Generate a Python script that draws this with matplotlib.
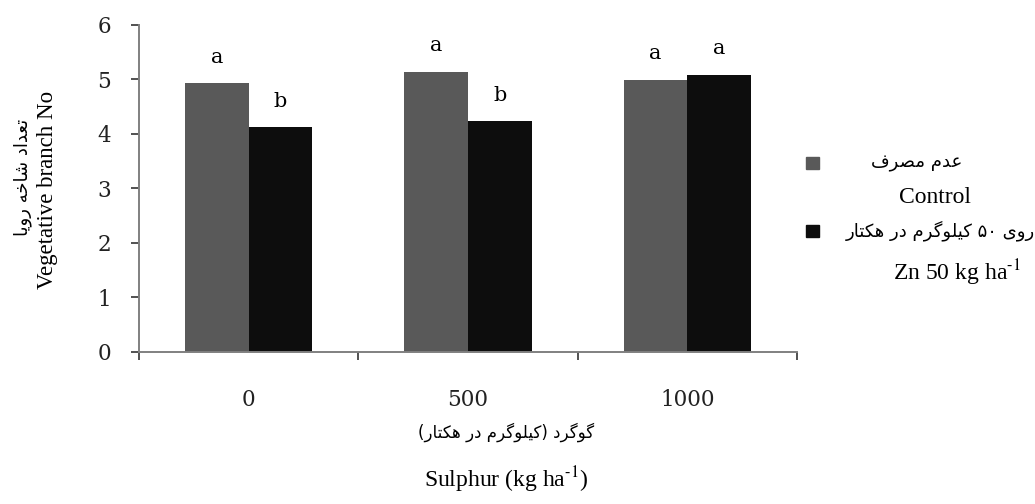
import re
import matplotlib
matplotlib.use('Agg')
import matplotlib.pyplot as plt
import numpy as np
from matplotlib.patches import Rectangle

# data
sulphur = ['0', '500', '1000']
control = [4.93, 5.14, 4.99]
zinc = [4.12, 4.23, 5.08]
letters_control = ['a', 'a', 'a']
letters_zinc = ['b', 'b', 'a']
yticks = [0, 1, 2, 3, 4, 5, 6]

label_control_fa = 'عدم مصرف'
label_control_en = 'Control'
label_zinc_fa = 'روی ۵۰ کیلوگرم در هکتار'
label_zinc_en = 'Zn 50 kg ha$^{\u20101}$'
xlabel_fa = 'گوگرد (کیلوگرم در هکتار)'
xlabel_en = 'Sulphur (kg ha$^{\u20101}$)'
ylabel_fa = 'تعداد شاخه رویا'
ylabel_en = 'Vegetative branch No'

# matplotlib has no arabic shaping, so do it by hand with presentation forms
# (isolated, final, initial, medial)
FORMS = {
    'ا': ('\uFE8D', '\uFE8E', '\uFE8D', '\uFE8E'),
    'د': ('\uFEA9', '\uFEAA', '\uFEA9', '\uFEAA'),
    'ر': ('\uFEAD', '\uFEAE', '\uFEAD', '\uFEAE'),
    'و': ('\uFEED', '\uFEEE', '\uFEED', '\uFEEE'),
    'ت': ('\uFE95', '\uFE96', '\uFE97', '\uFE98'),
    'خ': ('\uFEA5', '\uFEA6', '\uFEA7', '\uFEA8'),
    'ش': ('\uFEB5', '\uFEB6', '\uFEB7', '\uFEB8'),
    'ص': ('\uFEB9', '\uFEBA', '\uFEBB', '\uFEBC'),
    'ع': ('\uFEC9', '\uFECA', '\uFECB', '\uFECC'),
    'ف': ('\uFED1', '\uFED2', '\uFED3', '\uFED4'),
    'ل': ('\uFEDD', '\uFEDE', '\uFEDF', '\uFEE0'),
    'م': ('\uFEE1', '\uFEE2', '\uFEE3', '\uFEE4'),
    'ه': ('\uFEE9', '\uFEEA', '\uFEEB', '\uFEEC'),
    'ک': ('\uFB8E', '\uFB8F', '\uFB90', '\uFB91'),
    'گ': ('\uFB92', '\uFB93', '\uFB94', '\uFB95'),
    'ی': ('\uFBFC', '\uFBFD', '\uFBFE', '\uFBFF'),
}
RIGHT_ONLY = set('ادرو')


def fa(s):
    out = []
    for i, c in enumerate(s):
        if c not in FORMS:
            out.append(c)
            continue
        prev = s[i - 1] if i > 0 else ''
        nxt = s[i + 1] if i + 1 < len(s) else ''
        jp = prev in FORMS and prev not in RIGHT_ONLY
        jn = nxt in FORMS and c not in RIGHT_ONLY
        f = FORMS[c]
        if jp and jn:
            out.append(f[3])
        elif jp:
            out.append(f[1])
        elif jn:
            out.append(f[2])
        else:
            out.append(f[0])
    vis = ''.join(out)[::-1]
    vis = vis.translate({ord('('): ')', ord(')'): '('})
    vis = re.sub('[0-9\u06F0-\u06F9]+', lambda m: m.group(0)[::-1], vis)
    return vis


plt.rcParams['mathtext.fontset'] = 'stix'
FA_FONT = ['DejaVu Sans']
EN_FONT = ['Liberation Serif', 'DejaVu Serif']
NUM_FONT = ['DejaVu Serif']

c_gray = '#595959'
c_black = '#0d0d0d'

fig = plt.figure(figsize=(10.35, 5.04), dpi=100)
ax = fig.add_axes([0.1343, 0.3016, 0.6357, 0.6488])

x = np.arange(len(sulphur))
w = 0.29
ax.bar(x - w / 2, control, w, color=c_gray)
ax.bar(x + w / 2, zinc, w, color=c_black)

for xi, v, t in zip(x - w / 2, control, letters_control):
    ax.text(xi, v + 0.38, t, ha='center', va='baseline', fontsize=15, family=NUM_FONT)
for xi, v, t in zip(x + w / 2, zinc, letters_zinc):
    ax.text(xi, v + 0.38, t, ha='center', va='baseline', fontsize=15, family=NUM_FONT)

ax.set_xlim(-0.5, 2.5)
ax.set_ylim(0, 6)
ax.set_yticks(yticks)
ax.set_yticklabels([str(t) for t in yticks], family=NUM_FONT, fontsize=15.5)
ax.set_xticks(np.arange(-0.5, 3, 1))
ax.set_xticklabels([])
ax.set_xticks(x, minor=True)
ax.set_xticklabels(sulphur, minor=True, family=NUM_FONT, fontsize=15.5)
ax.tick_params(axis='x', which='major', direction='out', length=6, width=1.2, color='#333333')
ax.tick_params(axis='x', which='minor', length=0, pad=27, colors='#222222')
ax.tick_params(axis='y', direction='out', length=6, width=1.2, color='#333333', pad=14, labelcolor='#222222')

for s in ['top', 'right']:
    ax.spines[s].set_visible(False)
for s in ['left', 'bottom']:
    ax.spines[s].set_color('#808080')
    ax.spines[s].set_linewidth(1.4)

W, H = 1035, 504


def fx(px):
    return px / W


def fy(py):
    return 1 - py / H


# axis titles
fig.text(fx(506), fy(432), fa(xlabel_fa), ha='center', va='center', fontsize=12, family=FA_FONT)
fig.text(fx(506), fy(487), xlabel_en, ha='center', va='baseline', fontsize=17, family=EN_FONT)
fig.text(fx(23), fy(177), fa(ylabel_fa), ha='center', va='center', rotation=90, fontsize=13, family=FA_FONT)
fig.text(fx(48), fy(190), ylabel_en, ha='center', va='center', rotation=90, fontsize=16.5, family=EN_FONT)

# legend drawn by hand
entries = [
    (c_gray, label_control_fa, label_control_en, 163, 917, 935, 203),
    (c_black, label_zinc_fa, label_zinc_en, 231, 940, 957, 280),
]
for col, lfa, len_, ysq, xfa, xen, yen in entries:
    fig.patches.append(Rectangle((fx(806), fy(ysq + 6)), 13 / W, 12 / H,
                                 transform=fig.transFigure, color=col, figure=fig))
    fig.text(fx(xfa), fy(ysq), fa(lfa), ha='center', va='center', fontsize=13, family=FA_FONT)
    fig.text(fx(xen), fy(yen), len_, ha='center', va='baseline', fontsize=17, family=EN_FONT)

fig.savefig('out.png', dpi=100)
